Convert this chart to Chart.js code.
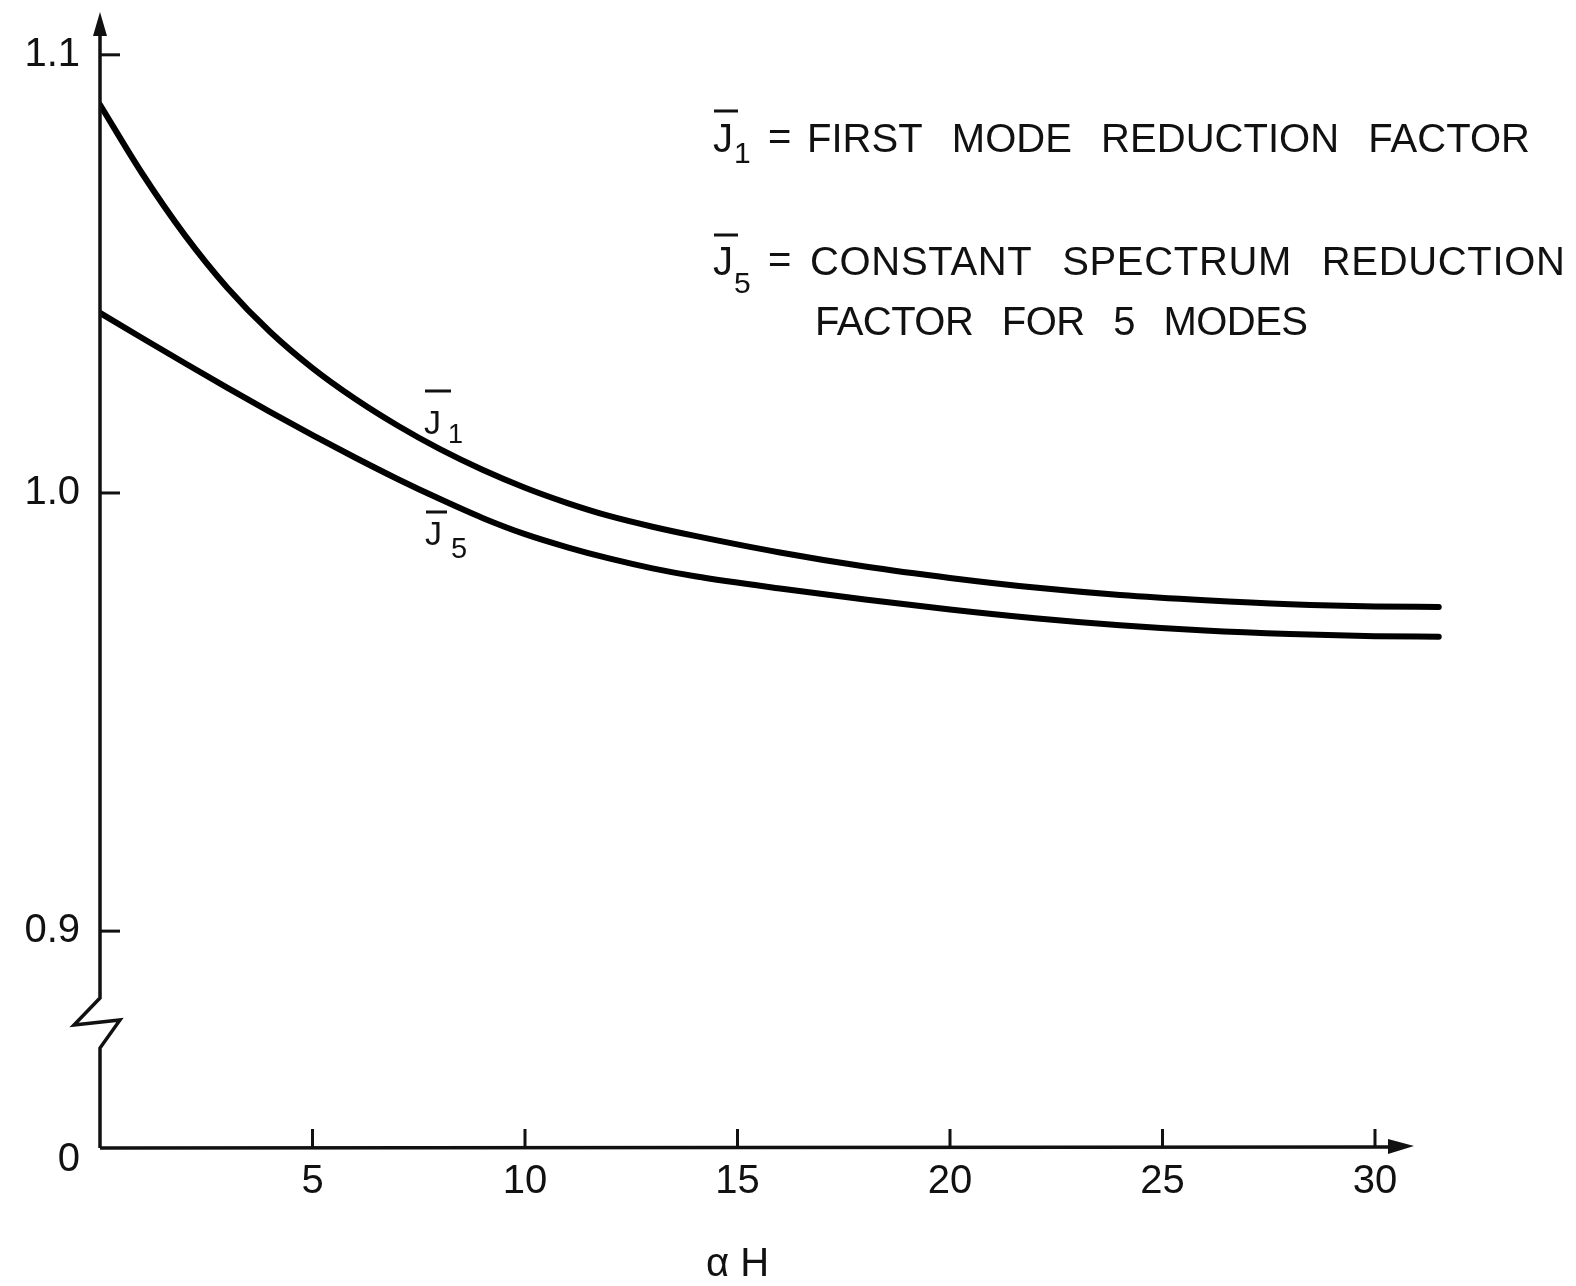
<!DOCTYPE html>
<html><head><meta charset="utf-8">
<script src="https://cdn.jsdelivr.net/npm/chart.js@4/dist/chart.umd.min.js"></script>
<style>html,body{margin:0;padding:0;background:#fff;overflow:hidden}#wrap{width:1576px;height:1286px}</style>
</head><body><div id="wrap"><canvas id="c" width="1576" height="1286"></canvas></div>
<script>
// ---- data ----
const alphaH = [0, 1, 2, 3, 4, 5, 6, 7, 8, 9, 10, 11, 12, 13, 14, 16, 18, 20, 22, 24, 26, 28, 30, 31.5];
const j1 = [1.0886, 1.0728, 1.0588, 1.0468, 1.0368, 1.0285, 1.0215, 1.0154, 1.0100, 1.0053, 1.0012, 0.9977, 0.9947, 0.9923, 0.9902, 0.9864, 0.9832, 0.9806, 0.9784, 0.9767, 0.9755, 0.9746, 0.9741, 0.9740];
const j5 = [1.0411, 1.0353, 1.0296, 1.0240, 1.0185, 1.0132, 1.0081, 1.0032, 0.9986, 0.9943, 0.9906, 0.9876, 0.9850, 0.9828, 0.9810, 0.9782, 0.9757, 0.9734, 0.9714, 0.9698, 0.9686, 0.9678, 0.9673, 0.9672];
const xTicks = [5, 10, 15, 20, 25, 30];
const yTicks = [0.9, 1.0, 1.1];
const yOriginValue = 0.8505;   // broken-axis origin, labelled "0"
const yOriginLabel = '0';
const xTitle = 'α H';
const legendLines = ['FIRST MODE REDUCTION FACTOR', 'CONSTANT SPECTRUM REDUCTION', 'FACTOR FOR 5 MODES'];
const seriesSubs = ['1', '5'];

const FONT = '"Liberation Sans", Arial, sans-serif';
const INK = '#111';

const axesPlugin = {
  id: 'axesPlugin',
  afterDraw(chart) {
    const ctx = chart.ctx, xs = chart.scales.x, ys = chart.scales.y;
    const ax = xs.getPixelForValue(0);
    const by = ys.getPixelForValue(yOriginValue);
    ctx.save();
    ctx.strokeStyle = INK; ctx.fillStyle = INK;
    ctx.lineWidth = 3.5; ctx.lineJoin = 'miter'; ctx.lineCap = 'butt';
    // y axis with break
    ctx.beginPath();
    ctx.moveTo(ax, by);
    ctx.lineTo(ax, by - 100);
    ctx.lineTo(ax + 20, by - 128);
    ctx.lineTo(ax - 26, by - 123);
    ctx.lineTo(ax, by - 150);
    ctx.lineTo(ax, 34);
    ctx.stroke();
    ctx.beginPath();
    ctx.moveTo(ax, 12); ctx.lineTo(ax - 7, 36); ctx.lineTo(ax + 7, 36); ctx.closePath(); ctx.fill();
    // x axis
    ctx.beginPath();
    ctx.moveTo(ax, by); ctx.lineTo(1392, by - 1); ctx.stroke();
    ctx.beginPath();
    ctx.moveTo(1414, by - 2); ctx.lineTo(1388, by - 9); ctx.lineTo(1388, by + 6); ctx.closePath(); ctx.fill();
    // tick marks
    ctx.lineWidth = 3;
    yTicks.forEach(v => {
      const py = ys.getPixelForValue(v);
      ctx.beginPath(); ctx.moveTo(ax, py); ctx.lineTo(ax + 20, py); ctx.stroke();
    });
    xTicks.forEach(v => {
      const px = xs.getPixelForValue(v);
      ctx.beginPath(); ctx.moveTo(px, by); ctx.lineTo(px, by - 19); ctx.stroke();
    });
    // axis title centred under alphaH = 15
    ctx.font = '40px ' + FONT;
    ctx.textAlign = 'center'; ctx.textBaseline = 'alphabetic';
    ctx.fillText(xTitle, xs.getPixelForValue(15), 1276);
    ctx.restore();
  }
};

function drawJ(ctx, x, base, size, sub, subSize, subDx, subDy, barY, barW) {
  ctx.font = size + 'px ' + FONT;
  ctx.textAlign = 'left'; ctx.textBaseline = 'alphabetic';
  ctx.fillText('J', x, base);
  ctx.lineWidth = 3;
  ctx.beginPath(); ctx.moveTo(x + 1, barY); ctx.lineTo(x + barW, barY); ctx.stroke();
  ctx.font = subSize + 'px ' + FONT;
  ctx.fillText(sub, x + subDx, base + subDy);
}

function fitText(ctx, text, x, base, target) {
  ctx.letterSpacing = '0px';
  ctx.wordSpacing = '18px';
  const w0 = ctx.measureText(text).width;
  const ls = (target - w0) / (text.length - 1);
  ctx.letterSpacing = ls.toFixed(2) + 'px';
  ctx.fillText(text, x, base);
  ctx.letterSpacing = '0px';
  ctx.wordSpacing = '0px';
}

const labelPlugin = {
  id: 'labelPlugin',
  afterDraw(chart) {
    const ctx = chart.ctx;
    ctx.save();
    ctx.fillStyle = INK; ctx.strokeStyle = INK;
    // legend block
    drawJ(ctx, 713, 152, 40, seriesSubs[0], 30, 21, 11, 111, 25);
    drawJ(ctx, 713, 275, 40, seriesSubs[1], 30, 21, 18, 235, 25);
    ctx.font = '40px ' + FONT; ctx.textAlign = 'left';
    ctx.fillText('=', 768, 150);
    ctx.fillText('=', 768, 273);
    ctx.font = '40px ' + FONT;
    fitText(ctx, legendLines[0], 807, 152, 723);
    fitText(ctx, legendLines[1], 810, 275, 755);
    fitText(ctx, legendLines[2], 815, 335, 493);
    // curve labels
    drawJ(ctx, 424, 434, 34, seriesSubs[0], 27, 24, 9, 391, 27);
    drawJ(ctx, 425, 545, 34, seriesSubs[1], 29, 26, 13, 512, 22);
    ctx.restore();
  }
};

const pts = ys => alphaH.map((x, i) => ({x, y: ys[i]}));
const zeroPad = s => { s.paddingLeft = 0; s.paddingRight = 0; s.paddingTop = 0; s.paddingBottom = 0; };
const isOrigin = v => Math.abs(v - yOriginValue) < 1e-6;

new Chart(document.getElementById('c'), {
  type: 'line',
  data: {
    datasets: [
      {label: 'J1', data: pts(j1), borderColor: '#000', borderWidth: 6, pointRadius: 0, cubicInterpolationMode: 'monotone', borderCapStyle: 'round', fill: false},
      {label: 'J5', data: pts(j5), borderColor: '#000', borderWidth: 6, pointRadius: 0, cubicInterpolationMode: 'monotone', borderCapStyle: 'round', fill: false}
    ]
  },
  options: {
    responsive: false, animation: false, devicePixelRatio: 1,
    layout: {padding: {left: 0, top: 11, right: 116, bottom: 0}},
    plugins: {legend: {display: false}, tooltip: {enabled: false}},
    scales: {
      x: {
        type: 'linear', min: 0, max: 32,
        afterBuildTicks: s => { s.ticks = xTicks.map(v => ({value: v})); },
        afterFit: s => { s.height = 138; zeroPad(s); },
        grid: {display: false, drawTicks: false},
        border: {display: false},
        ticks: {font: {family: FONT, size: 40}, color: INK, padding: 10, maxRotation: 0, autoSkip: false, callback: v => String(v)}
      },
      y: {
        type: 'linear', min: yOriginValue, max: 1.11,
        afterBuildTicks: s => { s.ticks = [yOriginValue, ...yTicks].map(v => ({value: v})); },
        afterFit: s => { s.width = 100; zeroPad(s); },
        grid: {display: false, drawTicks: false},
        border: {display: false},
        ticks: {
          font: c => ({family: FONT, size: 40, lineHeight: (c.tick && isOrigin(c.tick.value)) ? 0.6 : 1.2}),
          color: INK, padding: 20, autoSkip: false,
          callback: v => (isOrigin(v) ? ['', yOriginLabel] : v.toFixed(1))
        }
      }
    }
  },
  plugins: [axesPlugin, labelPlugin]
});
</script>
</body></html>
